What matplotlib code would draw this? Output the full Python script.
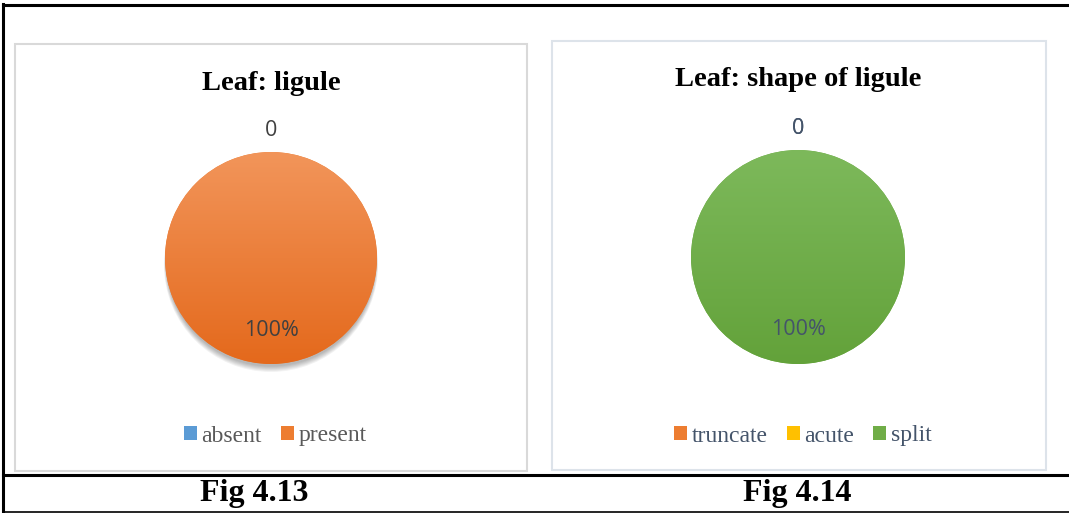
import matplotlib
matplotlib.use("Agg")
import matplotlib.pyplot as plt
import numpy as np
from matplotlib.patches import Rectangle, Patch, Circle
from matplotlib.lines import Line2D
from matplotlib.colors import LinearSegmentedColormap

# data
left_title = 'Leaf: ligule'
left_labels = ['absent', 'present']
left_values = [0, 1]
left_colors = ['#5B9BD5', '#ED7D31']

right_title = 'Leaf: shape of ligule'
right_labels = ['truncate', 'acute', 'split']
right_values = [0, 0, 1]
right_colors = ['#ED7D31', '#FFC000', '#70AD47']

captions = ['Fig 4.13', 'Fig 4.14']

W, H = 1069, 513
fig = plt.figure(figsize=(W / 100, H / 100), dpi=100)
fig.patch.set_facecolor('white')


def fx(px):
    return px / W


def fy(py):
    return 1 - py / H


# table lines
lw = 2.2
fig.add_artist(Line2D([fx(3), fx(3)], [fy(4), fy(512)], color='black', lw=lw))
fig.add_artist(Line2D([fx(3), fx(1069)], [fy(4.5), fy(4.5)], color='black', lw=lw))
fig.add_artist(Line2D([fx(3), fx(1069)], [fy(474.5), fy(474.5)], color='black', lw=lw))
fig.add_artist(Line2D([fx(3), fx(1069)], [fy(511.5), fy(511.5)], color='black', lw=1.2))

# chart frames
fig.add_artist(Rectangle((fx(15), fy(471)), fx(527 - 15), (471 - 44) / H,
                         fill=False, edgecolor='#d9d9d9', lw=1.5))
fig.add_artist(Rectangle((fx(552), fy(470)), fx(1046 - 552), (470 - 41) / H,
                         fill=False, edgecolor='#dde3ea', lw=1.5))


def draw_pie(cx, cy, r, values, colors, grad, txtcolor, shadow):
    half = 1.5 * r
    ax = fig.add_axes([fx(cx - half), fy(cy + half), 2 * half / W, 2 * half / H])
    ax.axis('off')
    if shadow:
        for k in range(6):
            ax.add_patch(Circle((0, -0.035 - 0.006 * k), 0.99 + 0.004 * k,
                                color='black', alpha=0.05, lw=0, zorder=0))
    wedges, _ = ax.pie(values, colors=colors, startangle=90, counterclock=False,
                       radius=1, wedgeprops=dict(linewidth=0))
    # gradient fill for the full slice
    total = sum(values)
    for w, v in zip(wedges, values):
        if v == total:
            g = np.linspace(0, 1, 200).reshape(-1, 1)
            cmap = LinearSegmentedColormap.from_list('g', grad)
            im = ax.imshow(g, cmap=cmap, extent=(-1, 1, -1, 1), origin='upper',
                           aspect='auto', zorder=2)
            im.set_clip_path(w)
    ax.set_xlim(-1.5, 1.5)
    ax.set_ylim(-1.5, 1.5)
    ax.set_aspect('equal')
    for w, v in zip(wedges, values):
        th = np.deg2rad((w.theta1 + w.theta2) / 2)
        if v == 0:
            ax.text(1.2 * np.cos(th), 1.2 * np.sin(th), '0', ha='center', va='center',
                    fontsize=15.5, family='Open Sans', color=txtcolor, zorder=3)
        else:
            ax.text(0.68 * np.cos(th), 0.68 * np.sin(th), f'{v / total:.0%}',
                    ha='center', va='center', fontsize=15.5, family='Open Sans',
                    color=txtcolor, zorder=3)
    return ax


draw_pie(271, 258, 106, left_values, left_colors, ['#F2955A', '#E4691C'], '#404040', True)
draw_pie(798, 257, 107, right_values, right_colors, ['#7DB95B', '#63A23A'], '#44546A', False)

# titles
fig.text(fx(271), fy(84), left_title, ha='center', va='center', fontsize=20.5,
         fontweight='bold', family='Liberation Serif', color='black')
fig.text(fx(798), fy(80), right_title, ha='center', va='center', fontsize=20.5,
         fontweight='bold', family='Liberation Serif', color='black')


# legends
def add_legend(labels, colors, xc, yc, tcolor):
    handles = [Patch(facecolor=c, edgecolor='none') for c in colors]
    leg = fig.legend(handles, labels, loc='center', bbox_to_anchor=(fx(xc), fy(yc)),
                     ncol=len(labels), frameon=False, handlelength=0.55, handleheight=0.55,
                     handletextpad=0.2, columnspacing=0.8,
                     prop={'family': 'Liberation Serif', 'size': 17})
    for t in leg.get_texts():
        t.set_color(tcolor)


add_legend(left_labels, left_colors, 275, 436, '#595959')
add_legend(right_labels, right_colors, 803, 436, '#44546A')

# captions
fig.text(fx(254), fy(493), captions[0], ha='center', va='center', fontsize=23,
         fontweight='bold', family='Liberation Serif')
fig.text(fx(797), fy(493), captions[1], ha='center', va='center', fontsize=23,
         fontweight='bold', family='Liberation Serif')

fig.savefig('out.png', dpi=100, facecolor='white')
